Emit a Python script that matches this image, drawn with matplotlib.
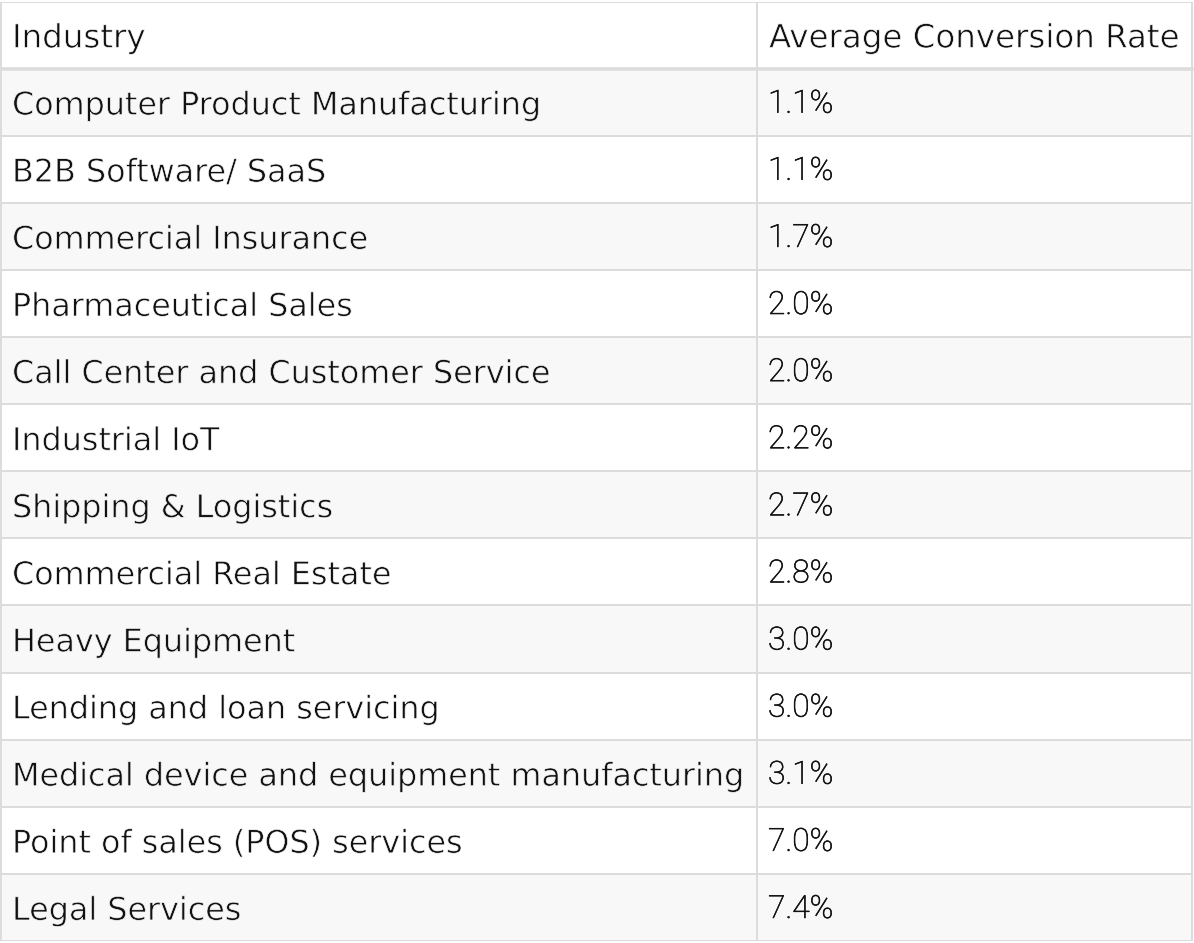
import matplotlib
matplotlib.use("Agg")
import matplotlib.pyplot as plt
import matplotlib.patheffects as pe
from matplotlib.patches import Rectangle

headers = ["Industry", "Average Conversion Rate"]
industries = [
    "Computer Product Manufacturing",
    "B2B Software/ SaaS",
    "Commercial Insurance",
    "Pharmaceutical Sales",
    "Call Center and Customer Service",
    "Industrial IoT",
    "Shipping & Logistics",
    "Commercial Real Estate",
    "Heavy Equipment",
    "Lending and loan servicing",
    "Medical device and equipment manufacturing",
    "Point of sales (POS) services",
    "Legal Services",
]
rates = ["1.1%", "1.1%", "1.7%", "2.0%", "2.0%", "2.2%", "2.7%",
         "2.8%", "3.0%", "3.0%", "3.1%", "7.0%", "7.4%"]

W, H = 1194, 943
DPI = 100
fig = plt.figure(figsize=(W / DPI, H / DPI), dpi=DPI)
fig.patch.set_facecolor("white")

top_px, bot_px = 1.5, 941.0
left_px, right_px = 1.0, 1192.0
div_px = 757.0
nrows = len(industries) + 1

ax = fig.add_axes([0, 1 - bot_px / H, 1, (bot_px - top_px) / H])
ax.set_xlim(0, W)
ax.set_ylim(nrows, 0)
ax.axis("off")

border = "#dcdcdc"
stripe = "#f8f8f8"
txt = "#111111"
lw = 2.0 * 72 / DPI

row_bg = []
for i in range(nrows):
    color = "white" if i % 2 == 0 else stripe
    row_bg.append(color)
    ax.add_patch(Rectangle((left_px, i), right_px - left_px, 1,
                           facecolor=color, edgecolor="none", zorder=0))

for i in range(nrows + 1):
    w = lw * 1.8 if i == 1 else lw
    ax.plot([left_px, right_px], [i, i], color=border, lw=w,
            solid_capstyle="projecting", zorder=2)
for x in (left_px, div_px, right_px):
    ax.plot([x, x], [0, nrows], color=border, lw=lw,
            solid_capstyle="projecting", zorder=2)

font_main = "DejaVu Sans"
font_num = "Roboto"

renderer = fig.canvas.get_renderer()
def width_px(s, size, fam, weight="normal"):
    t = fig.text(0, 0, s, fontsize=size, family=fam, weight=weight)
    w = t.get_window_extent(renderer).width
    t.remove()
    return w

fs = 10 * 733.0 / width_px(industries[10], 10, font_main)
fs_head = 10 * 411.0 / width_px(headers[1], 10, font_main)
fs_num = 10 * 65.0 / width_px("2.0%", 10, font_num, "light")

def thin(bg, amount=0.5):
    return [pe.Stroke(linewidth=amount, foreground=bg)]

thicken = [pe.withStroke(linewidth=0.45, foreground=txt)]

dy = 0.56
ax.text(12, dy, headers[0], fontsize=fs_head, family=font_main,
        color=txt, va="center", ha="left", zorder=3, path_effects=thin(row_bg[0]))
ax.text(769, dy, headers[1], fontsize=fs_head, family=font_main,
        color=txt, va="center", ha="left", zorder=3, path_effects=thin(row_bg[0]))
for i, (name, r) in enumerate(zip(industries, rates)):
    y = i + 1 + dy
    bg = row_bg[i + 1]
    ax.text(12, y, name, fontsize=fs, family=font_main,
            color=txt, va="center", ha="left", zorder=3, path_effects=thin(bg))
    ax.text(768, y - 0.03, r, fontsize=fs_num, family=font_num, weight="light",
            color=txt, va="center", ha="left", zorder=3, path_effects=thicken)

fig.savefig("out.png", dpi=DPI, facecolor="white")
